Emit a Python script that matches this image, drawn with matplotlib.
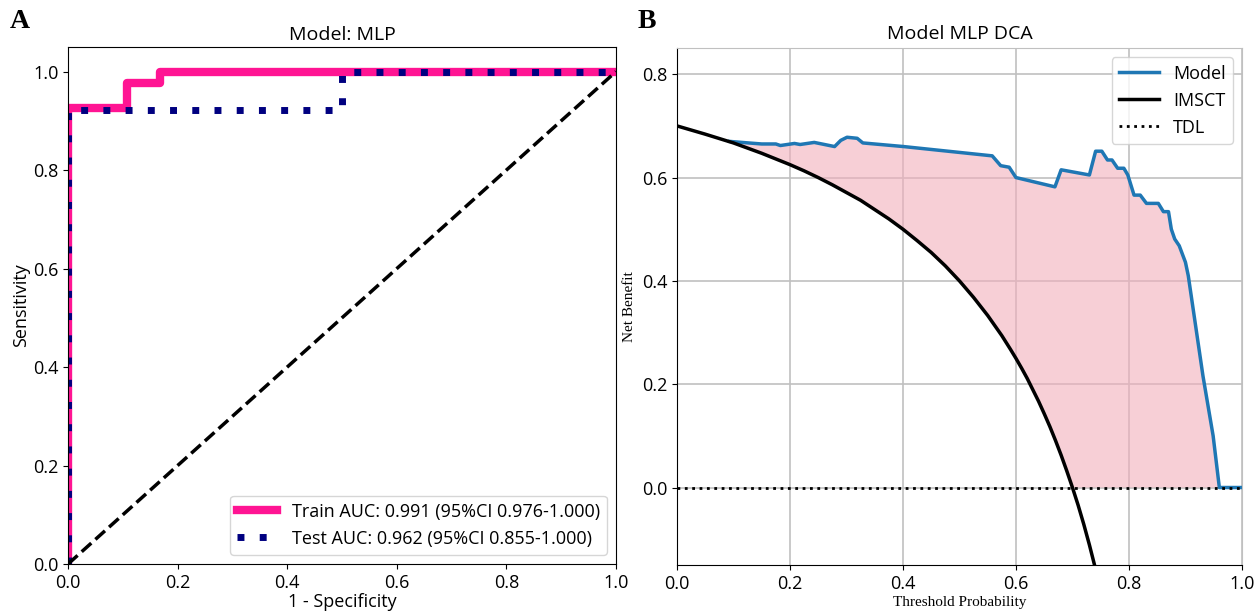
import matplotlib
matplotlib.use('Agg')
import matplotlib.pyplot as plt
import numpy as np

plt.rcParams['font.family'] = ['Open Sans', 'DejaVu Sans']
plt.rcParams['font.size'] = 13

# ROC 曲線のデータ（A）
train_fpr = [0.0, 0.0, 0.107, 0.107, 0.167, 0.167, 1.0]
train_tpr = [0.0, 0.927, 0.927, 0.977, 0.977, 1.0, 1.0]
test_fpr = [0.0, 0.0, 0.5, 0.5, 1.0]
test_tpr = [0.0, 0.923, 0.923, 1.0, 1.0]
train_label = 'Train AUC: 0.991 (95%CI 0.976-1.000)'
test_label = 'Test AUC: 0.962 (95%CI 0.855-1.000)'

# DCA のデータ（B）
model_x = [0.093, 0.115, 0.150, 0.175, 0.183, 0.208, 0.218, 0.243, 0.279, 0.290,
           0.301, 0.319, 0.329, 0.401, 0.558, 0.573, 0.588, 0.600, 0.669, 0.680,
           0.730, 0.741, 0.752, 0.762, 0.770, 0.780, 0.791, 0.798, 0.809, 0.820,
           0.831, 0.852, 0.861, 0.870, 0.875, 0.881, 0.889, 0.900, 0.905, 0.931,
           0.949, 0.960, 1.0]
model_y = [0.670, 0.668, 0.665, 0.665, 0.662, 0.666, 0.664, 0.668, 0.660, 0.672,
           0.678, 0.676, 0.667, 0.660, 0.642, 0.623, 0.620, 0.600, 0.582, 0.615,
           0.605, 0.651, 0.651, 0.634, 0.634, 0.618, 0.618, 0.605, 0.566, 0.566,
           0.550, 0.550, 0.534, 0.534, 0.500, 0.481, 0.468, 0.436, 0.410, 0.216,
           0.100, 0.0, 0.0]
all_x = [0.0, 0.05, 0.10, 0.15, 0.20, 0.225, 0.25, 0.275, 0.30, 0.325, 0.35, 0.375,
         0.40, 0.425, 0.45, 0.475, 0.50, 0.525, 0.55, 0.575, 0.59, 0.60, 0.61, 0.62,
         0.63, 0.64, 0.65, 0.66, 0.67, 0.68, 0.69, 0.70, 0.71, 0.72, 0.73, 0.74, 0.75]
all_y = [0.700, 0.684, 0.667, 0.647, 0.625, 0.613, 0.600, 0.586, 0.571, 0.556, 0.538, 0.520,
         0.500, 0.478, 0.455, 0.429, 0.400, 0.368, 0.333, 0.294, 0.268, 0.250, 0.231, 0.211,
         0.189, 0.167, 0.143, 0.118, 0.091, 0.0625, 0.032, 0.0, -0.034, -0.071, -0.111, -0.154, -0.200]
none_x = [0.0, 1.0]
none_y = [0.0, 0.0]

fig = plt.figure(figsize=(12.55, 6.15), dpi=100)

# A: ROC
ax1 = fig.add_axes([0.0542, 0.0829, 0.4366, 0.8407])
ax1.plot(train_fpr, train_tpr, color='#FF1493', lw=6, label=train_label)
ax1.plot(test_fpr, test_tpr, color='#000080', lw=5, ls=(0, (1, 2.2)),
         dash_capstyle='butt', label=test_label)
ax1.plot([0, 1], [0, 1], color='black', lw=2.5, ls='--')
ax1.set_xlim(0, 1)
ax1.set_ylim(0, 1.05)
ax1.set_xticks([0, 0.2, 0.4, 0.6, 0.8, 1.0])
ax1.set_yticks([0, 0.2, 0.4, 0.6, 0.8, 1.0])
ax1.set_xlabel('1 - Specificity', labelpad=1)
ax1.set_ylabel('Sensitivity', labelpad=2)
ax1.set_title('Model: MLP', fontsize=14, pad=5)
ax1.legend(loc='lower right', fontsize=13, handlelength=2.2)

# B: DCA
ax2 = fig.add_axes([0.5394, 0.0813, 0.4502, 0.8400])
ax2.grid(True, color='#c0c0c0', lw=1.2)
ax2.set_axisbelow(True)
# 塗りつぶし：モデルと max(IMSCT, 0) の間
lower_x = [0.960, 0.70] + [x for x in all_x[::-1] if 0.093 <= x < 0.70]
lower_y = [0.0, 0.0] + [y for x, y in zip(all_x[::-1], all_y[::-1]) if 0.093 <= x < 0.70]
poly_x = model_x[:-1] + lower_x
poly_y = model_y[:-1] + lower_y
ax2.fill(poly_x, poly_y, color='#F2AFBC', alpha=0.6, lw=0)
ax2.plot(model_x, model_y, color='#1f77b4', lw=2.5, label='Model')
ax2.plot(all_x, all_y, color='black', lw=2.5, label='IMSCT')
ax2.plot(none_x, none_y, color='black', lw=2, ls=':', label='TDL')
ax2.set_xlim(0, 1)
ax2.set_ylim(-0.15, 0.85)
ax2.set_xticks([0, 0.2, 0.4, 0.6, 0.8, 1.0])
ax2.set_yticks([0, 0.2, 0.4, 0.6, 0.8])
ax2.spines['top'].set_color('#c0c0c0')
ax2.spines['right'].set_color('#c0c0c0')
ax2.set_xlabel('Threshold Probability', family='Liberation Serif', fontsize=11, labelpad=2)
ax2.set_ylabel('Net Benefit', family='Liberation Serif', fontsize=11, labelpad=4)
ax2.set_title('Model MLP DCA', fontsize=14, pad=7)
ax2.legend(loc='upper right', fontsize=13, handlelength=2.2)

fig.text(0.008, 0.955, 'A', family='Liberation Serif', fontweight='bold', fontsize=20)
fig.text(0.508, 0.955, 'B', family='Liberation Serif', fontweight='bold', fontsize=20)

fig.savefig('out.png', dpi=100)
